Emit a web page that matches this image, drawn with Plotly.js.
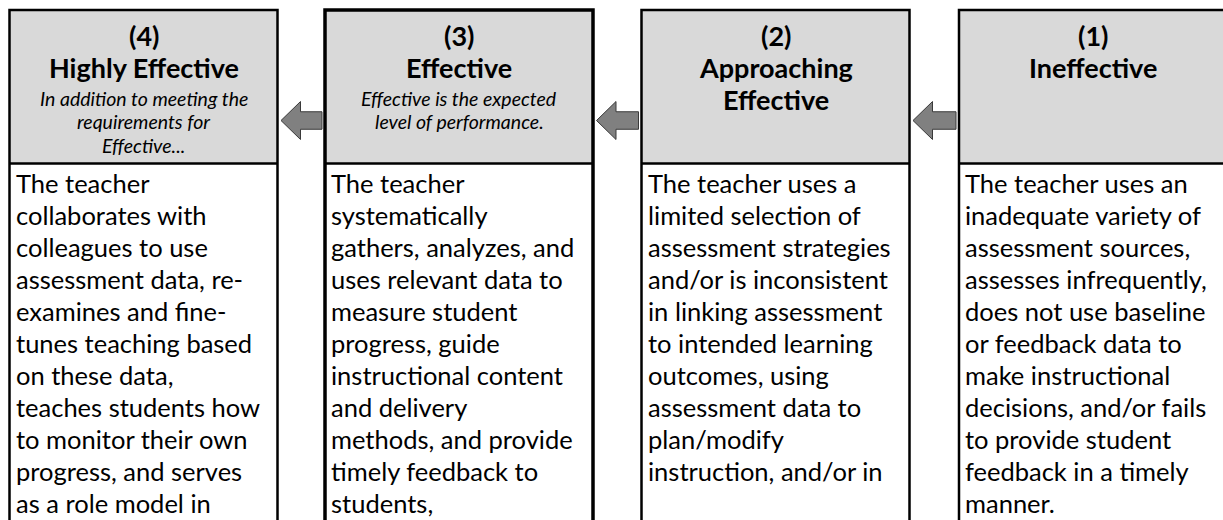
<!DOCTYPE html>
<html>
<head>
<meta charset="utf-8">
<script src="https://cdn.plot.ly/plotly-3.0.1.min.js"></script>
<style>html,body{margin:0;padding:0;background:#fff;}#chart{width:1223px;height:520px;}</style>
</head>
<body>
<div id="chart"></div>
<script>
// ---- data ----
const levels = ['(4)', '(3)', '(2)', '(1)'];
const levelNames = [['Highly Effective'], ['Effective'], ['Approaching', 'Effective'], ['Ineffective']];
const levelNotes = [
  ['In addition to meeting the', 'requirements for', 'Effective...'],
  ['Effective is the expected', 'level of performance.'],
  [],
  []
];
const descriptions = [
  ['The teacher', 'collaborates with', 'colleagues to use', 'assessment data, re-', 'examines and fine-',
   'tunes teaching based', 'on these data,', 'teaches students how', 'to monitor their own',
   'progress, and serves', 'as a role model in'],
  ['The teacher', 'systematically', 'gathers, analyzes, and', 'uses relevant data to', 'measure student',
   'progress, guide', 'instructional content', 'and delivery', 'methods, and provide',
   'timely feedback to', 'students,'],
  ['The teacher uses a', 'limited selection of', 'assessment strategies', 'and/or is inconsistent',
   'in linking assessment', 'to intended learning', 'outcomes, using', 'assessment data to',
   'plan/modify', 'instruction, and/or in'],
  ['The teacher uses an', 'inadequate variety of', 'assessment sources,', 'assesses infrequently,',
   'does not use baseline', 'or feedback data to', 'make instructional', 'decisions, and/or fails',
   'to provide student', 'feedback in a timely', 'manner.']
];

// ---- layout geometry ----
const boxLeft = [9.5, 325, 641.5, 959];
const boxW = 268;
const borderW = [2.5, 3.5, 2.5, 2.5];
const topY = 10, headBottom = 163.5, bottomY = 540;
const FONT = 'Lato, "Open Sans", sans-serif';

const shapes = [];
const annotations = [];

levels.forEach((lv, i) => {
  const x0 = boxLeft[i], x1 = boxLeft[i] + boxW, cx = (x0 + x1) / 2;
  shapes.push({type: 'rect', xref: 'x', yref: 'y', x0: x0, x1: x1, y0: topY, y1: headBottom,
    fillcolor: '#d9d9d9', line: {width: 0}});
  shapes.push({type: 'rect', xref: 'x', yref: 'y', x0: x0, x1: x1, y0: headBottom, y1: bottomY,
    fillcolor: '#ffffff', line: {width: 0}});
  shapes.push({type: 'line', xref: 'x', yref: 'y', x0: x0, x1: x1, y0: headBottom, y1: headBottom,
    line: {color: '#000', width: 2.5}});
  shapes.push({type: 'rect', xref: 'x', yref: 'y', x0: x0, x1: x1, y0: topY, y1: bottomY,
    fillcolor: 'rgba(0,0,0,0)', line: {color: '#000', width: borderW[i]}});

  const boldLines = [lv].concat(levelNames[i]);
  boldLines.forEach((t, k) => {
    annotations.push({xref: 'x', yref: 'y', x: cx, y: 35 + k * 32, text: '<b>' + t + '</b>',
      showarrow: false, xanchor: 'center', yanchor: 'middle',
      font: {family: FONT, size: 27, color: '#000'}});
  });
  levelNotes[i].forEach((t, k) => {
    annotations.push({xref: 'x', yref: 'y', x: cx, y: 98 + k * 23.5, text: '<i>' + t + '</i>',
      showarrow: false, xanchor: 'center', yanchor: 'middle',
      font: {family: FONT, size: 19.5, color: '#000'}});
  });
  descriptions[i].forEach((t, k) => {
    annotations.push({xref: 'x', yref: 'y', x: x0 + 4, y: 182.5 + k * 32, text: t,
      showarrow: false, xanchor: 'left', yanchor: 'middle',
      font: {family: FONT, size: 25.5, color: '#000'}});
  });
});

// arrows between boxes (pointing left)
for (let i = 0; i < levels.length - 1; i++) {
  const tip = boxLeft[i] + boxW + 3.5;
  const back = tip + 19.5;
  const tail = boxLeft[i + 1] - 3;
  const cy = 120.5, hh = 19, sh = 8.75;
  const path = `M ${tip} ${cy} L ${back} ${cy - hh} L ${back} ${cy - sh} L ${tail} ${cy - sh} ` +
               `L ${tail} ${cy + sh} L ${back} ${cy + sh} L ${back} ${cy + hh} Z`;
  shapes.push({type: 'path', xref: 'x', yref: 'y', path: path, fillcolor: '#808080',
    line: {color: '#3a3a3a', width: 1}});
}

const layout = {
  width: 1223, height: 520,
  margin: {l: 0, r: 0, t: 0, b: 0, pad: 0},
  paper_bgcolor: '#ffffff', plot_bgcolor: '#ffffff',
  xaxis: {range: [0, 1223], visible: false, fixedrange: true},
  yaxis: {range: [520, 0], visible: false, fixedrange: true},
  showlegend: false,
  shapes: shapes,
  annotations: annotations
};

Plotly.newPlot('chart', [], layout, {staticPlot: true, displayModeBar: false});
</script>
</body>
</html>
